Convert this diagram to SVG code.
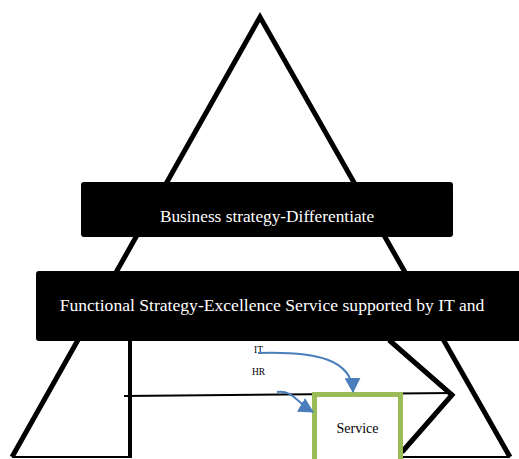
<svg xmlns="http://www.w3.org/2000/svg" width="519" height="459" viewBox="0 0 519 459">
  <style>
    .frame { fill: none; stroke: #000; stroke-linejoin: miter; stroke-miterlimit: 20; }
    .band { fill: #000; }
    .band-text { fill: #fff; font-family: "Liberation Serif", "Times New Roman", serif; text-anchor: middle; }
    .label { fill: #000; font-family: "Liberation Serif", "Times New Roman", serif; }
    .link { fill: none; stroke: #4A7EBB; stroke-width: 2; }
  </style>
  <defs>
    <marker id="head" markerUnits="userSpaceOnUse" markerWidth="16" markerHeight="16" refX="14" refY="8" orient="auto">
      <path d="M0,0 L15,8 L0,16 z" fill="#4A7EBB"/>
    </marker>
  </defs>

  <rect width="519" height="459" fill="#fff"/>

  <!-- pyramid outline -->
  <g id="pyramid">
    <polyline class="frame" stroke-width="5" points="12,457 260,17 510,457"/>
    <line class="frame" stroke-width="2" x1="12" y1="457" x2="131" y2="457"/>
    <line class="frame" stroke-width="2" x1="402" y1="457" x2="510" y2="457"/>
    <line class="frame" stroke-width="4" x1="130" y1="341" x2="130" y2="458"/>
    <line class="frame" stroke-width="2" x1="124" y1="396" x2="453" y2="393"/>
    <polyline class="frame" stroke-width="5" points="389,340 452,395 402,452"/>
  </g>

  <!-- strategy bands -->
  <g id="business">
    <rect class="band" x="81" y="182" width="372" height="55" rx="3"/>
    <text class="band-text" x="267" y="222" font-size="17.3">Business strategy-Differentiate</text>
  </g>
  <g id="functional">
    <rect class="band" x="36" y="271" width="490" height="70" rx="3"/>
    <text class="band-text" x="272" y="311" font-size="17.6">Functional Strategy-Excellence Service supported by IT and</text>
  </g>

  <!-- service box -->
  <g id="service">
    <rect x="314.5" y="394.5" width="86" height="80" fill="#fff" stroke="#9BBB59" stroke-width="5"/>
    <text class="label" x="357.5" y="433" font-size="14" text-anchor="middle">Service</text>
  </g>

  <!-- support labels -->
  <g id="it">
    <text class="label" x="254" y="353" font-size="9.5">IT</text>
  </g>
  <g id="hr">
    <text class="label" x="252" y="375" font-size="9.5">HR</text>
  </g>

  <!-- connectors -->
  <g id="connectors">
    <path class="link" d="M258,353 C318,351 352,360 353,392" marker-end="url(#head)"/>
    <path class="link" d="M277,392 C293,390 296,402 313,412" marker-end="url(#head)"/>
  </g>
</svg>
